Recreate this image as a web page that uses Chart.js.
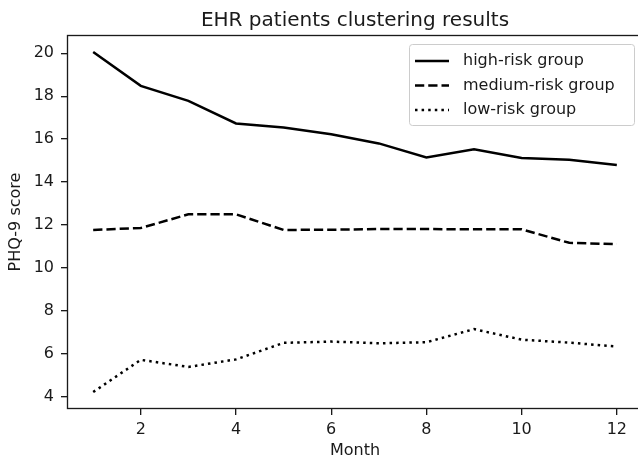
<!DOCTYPE html>
<html>
<head>
<meta charset="utf-8">
<script src="https://cdn.jsdelivr.net/npm/chart.js@4"></script>
<style>
html,body{margin:0;padding:0;background:#fff;}
#wrap{position:relative;width:638px;height:460px;overflow:hidden;}
</style>
</head>
<body>
<div id="wrap"><canvas id="chart" width="644" height="460"></canvas></div>
<script>
// data
const months=[1,2,3,4,5,6,7,8,9,10,11,12];
const highRisk=[20.06,18.48,17.78,16.73,16.54,16.23,15.8,15.15,15.53,15.12,15.04,14.79];
const mediumRisk=[11.77,11.86,12.5,12.5,11.77,11.78,11.81,11.81,11.8,11.8,11.17,11.11];
const lowRisk=[4.22,5.72,5.39,5.74,6.51,6.57,6.49,6.54,7.15,6.66,6.52,6.34];
const xTicks=[2,4,6,8,10,12];
const yTicks=[4,6,8,10,12,14,16,18,20];
const seriesNames=["high-risk group","medium-risk group","low-risk group"];
const chartTitle="EHR patients clustering results";

const FONT="'DejaVu Sans', sans-serif";
const INK="#1a1a1a";
const LW=2.5;
const dashes=[[],[9.25,4],[2.5,4.1]];

const pts=arr=>arr.map((v,i)=>({x:months[i],y:v}));

// frame, title and legend drawn matplotlib-style
const framePlugin={
id:"frame",
afterDraw(c){
const ctx=c.ctx,a=c.chartArea;
ctx.save();
ctx.strokeStyle=INK;
ctx.lineWidth=1.33;
ctx.strokeRect(a.left+0.5,a.top+0.5,a.right-a.left-1,a.bottom-a.top-1);

// title centred over the axes
ctx.fillStyle=INK;
ctx.font="20px "+FONT;
ctx.textAlign="center";
ctx.textBaseline="alphabetic";
ctx.fillText(chartTitle,(a.left+a.right)/2,26);

// legend
let bx=409,by=44,bw=225,bh=81;
ctx.fillStyle="rgba(255,255,255,0.8)";
ctx.strokeStyle="#cccccc";
ctx.lineWidth=1;
ctx.beginPath();
ctx.roundRect(bx+0.5,by+0.5,bw,bh,3);
ctx.fill();ctx.stroke();
ctx.font="16px "+FONT;
ctx.textAlign="left";
ctx.textBaseline="middle";
seriesNames.forEach((n,i)=>{
let y=by+17+i*24.5;
ctx.strokeStyle="#000";
ctx.lineWidth=LW;
ctx.setLineDash(dashes[i]);
ctx.beginPath();ctx.moveTo(bx+6,y);ctx.lineTo(bx+40,y);ctx.stroke();
ctx.setLineDash([]);
ctx.fillStyle=INK;
ctx.fillText(n,bx+54,y);
});
ctx.restore();
}
};

const mkSet=(i,arr)=>({label:seriesNames[i],data:pts(arr),borderColor:"#000",borderWidth:LW,borderDash:dashes[i],borderCapStyle:"butt",pointRadius:0,tension:0,fill:false});

new Chart(document.getElementById("chart"),{
type:"line",
data:{datasets:[mkSet(0,highRisk),mkSet(1,mediumRisk),mkSet(2,lowRisk)]},
options:{
responsive:false,
animation:false,
layout:{padding:{left:0,right:1,top:35,bottom:0}},
plugins:{legend:{display:false},tooltip:{enabled:false},title:{display:false}},
scales:{
x:{
type:"linear",min:0.45,max:12.55,
afterBuildTicks:s=>{s.ticks=xTicks.map(v=>({value:v}));},
afterFit:s=>{s.height=51;},
grid:{drawOnChartArea:false,drawTicks:true,tickLength:6,color:INK,lineWidth:1.33},
border:{display:false},
ticks:{color:INK,font:{family:FONT,size:16},padding:5,maxRotation:0},
title:{display:true,text:"Month",color:INK,font:{family:FONT,size:16},padding:{top:0,bottom:0}}
},
y:{
min:3.43,max:20.85,
afterBuildTicks:s=>{s.ticks=yTicks.map(v=>({value:v}));},
afterFit:s=>{s.width=67;},
grid:{drawOnChartArea:false,drawTicks:true,tickLength:6,color:INK,lineWidth:1.33},
border:{display:false},
ticks:{color:INK,font:{family:FONT,size:16},padding:7},
title:{display:true,text:"PHQ-9 score",color:INK,font:{family:FONT,size:16},padding:{top:6,bottom:0}}
}
}
},
plugins:[framePlugin]
});
</script>
</body>
</html>
